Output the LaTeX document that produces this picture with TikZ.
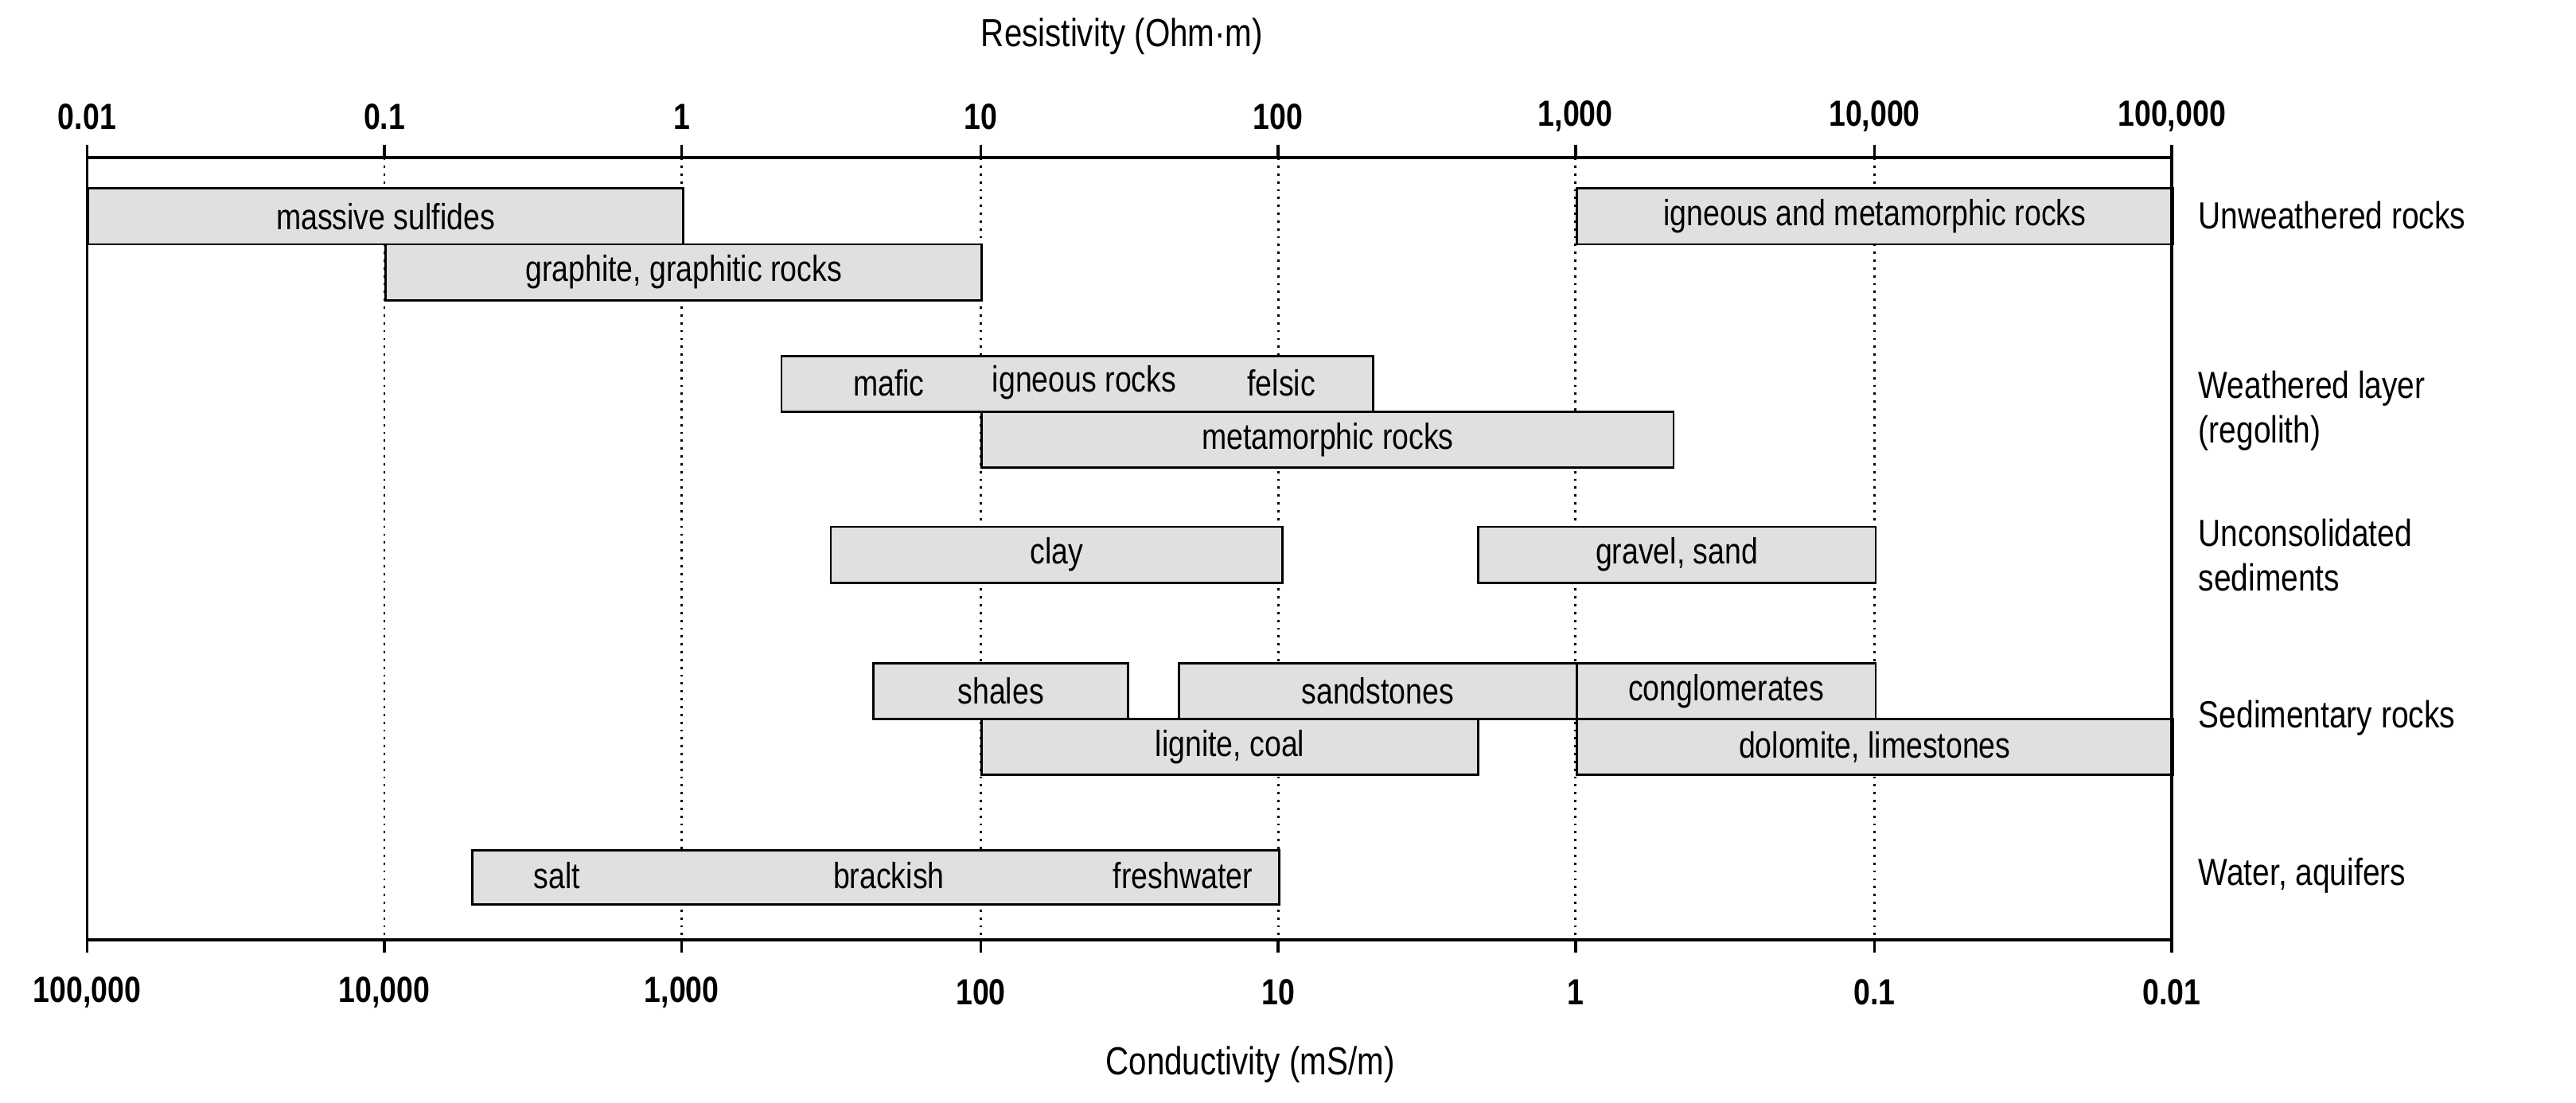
\documentclass[tikz,border=0pt]{standalone}
\usepackage{fontspec}
\setmainfont[FakeStretch=0.82]{Liberation Sans}
\begin{document}
\begin{tikzpicture}[x=0.020644cm,y=-0.020644cm,
  bar/.style={draw=black,fill=black!12,line width=0.8pt},
  lbl/.style={font=\fontsize{13}{15}\selectfont,inner sep=0pt},
  tick/.style={font=\bfseries\fontsize{13}{15}\selectfont,inner sep=0pt},
  side/.style={font=\fontsize{13.5}{16}\selectfont,anchor=west,align=left,inner sep=0pt},
  grid/.style={dotted,line width=0.8pt}]
\useasboundingbox (0,0) rectangle (1568,671);
% dotted grid
\foreach \x in {234,415,597,778,959,1141}{\draw[grid] (\x,96) -- (\x,572);}
% bars
\node[bar,minimum width=362*0.020644cm,minimum height=34*0.020644cm,anchor=north west,inner sep=0pt] (ms) at (53,114) {};
\node[lbl] (msl) at (ms.center) {massive sulfides};
\node[bar,minimum width=363*0.020644cm,minimum height=34*0.020644cm,anchor=north west,inner sep=0pt] (im) at (959,114) {};
\node[lbl] (iml) at (im.center) {igneous and metamorphic rocks};
\node[bar,minimum width=363*0.020644cm,minimum height=34*0.020644cm,anchor=north west,inner sep=0pt] (gr) at (234,148) {};
\node[lbl] (grl) at (gr.center) {graphite, graphitic rocks};
\node[bar,minimum width=360*0.020644cm,minimum height=34*0.020644cm,anchor=north west,inner sep=0pt] (ig) at (475,216) {};
\node[lbl] (ig1) at (541,233) {mafic};
\node[lbl] (ig2) at (660,233) {igneous rocks};
\node[lbl] (ig3) at (780,233) {felsic};
\node[bar,minimum width=421*0.020644cm,minimum height=34*0.020644cm,anchor=north west,inner sep=0pt] (mr) at (597,250) {};
\node[lbl] (mrl) at (mr.center) {metamorphic rocks};
\node[bar,minimum width=275*0.020644cm,minimum height=34*0.020644cm,anchor=north west,inner sep=0pt] (cl) at (505,320) {};
\node[lbl] (cll) at (cl.center) {clay};
\node[bar,minimum width=242*0.020644cm,minimum height=34*0.020644cm,anchor=north west,inner sep=0pt] (gs) at (899,320) {};
\node[lbl] (gsl) at (gs.center) {gravel, sand};
\node[bar,minimum width=155*0.020644cm,minimum height=34*0.020644cm,anchor=north west,inner sep=0pt] (sh) at (531,403) {};
\node[lbl] (shl) at (sh.center) {shales};
\node[bar,minimum width=242*0.020644cm,minimum height=34*0.020644cm,anchor=north west,inner sep=0pt] (ss) at (717,403) {};
\node[lbl] (ssl) at (ss.center) {sandstones};
\node[bar,minimum width=182*0.020644cm,minimum height=34*0.020644cm,anchor=north west,inner sep=0pt] (cg) at (959,403) {};
\node[lbl] (cgl) at (cg.center) {conglomerates};
\node[bar,minimum width=302*0.020644cm,minimum height=34*0.020644cm,anchor=north west,inner sep=0pt] (lc) at (597,437) {};
\node[lbl] (lcl) at (lc.center) {lignite, coal};
\node[bar,minimum width=363*0.020644cm,minimum height=34*0.020644cm,anchor=north west,inner sep=0pt] (dl) at (959,437) {};
\node[lbl] (dll) at (dl.center) {dolomite, limestones};
\node[bar,minimum width=491*0.020644cm,minimum height=33*0.020644cm,anchor=north west,inner sep=0pt] (wa) at (287,517) {};
\node[lbl] (wa1) at (339,533) {salt};
\node[lbl] (wa2) at (541,533) {brackish};
\node[lbl] (wa3) at (720,533) {freshwater};
% frame
\draw[line width=1pt] (53,96) rectangle (1322,572);
% ticks and labels
\foreach \x/\t/\b in {53/0.01/{100,000},234/0.1/{10,000},415/1/{1,000},597/10/100,778/100/10,959/{1,000}/1,1141/{10,000}/0.1,1322/{100,000}/0.01}{
  \draw[line width=1pt] (\x,88) -- (\x,96);
  \draw[line width=1pt] (\x,572) -- (\x,580);
  \node[tick] at (\x,71) {\t};
  \node[tick] at (\x,604) {\b};
}
\node[lbl,font=\fontsize{14}{16}\selectfont] (rt) at (683,22) {Resistivity (Ohm·m)};
\node[lbl,font=\fontsize{14}{16}\selectfont] (ct) at (761,648) {Conductivity (mS/m)};
\node[side] (s1) at (1338,131) {Unweathered rocks};
\node[side] (s2) at (1338,250) {Weathered layer\\(regolith)};
\node[side] (s3) at (1338,338) {Unconsolidated\\sediments};
\node[side] (s4) at (1338,437) {Sedimentary rocks};
\node[side] (s5) at (1338,533) {Water, aquifers};
\end{tikzpicture}
\end{document}
